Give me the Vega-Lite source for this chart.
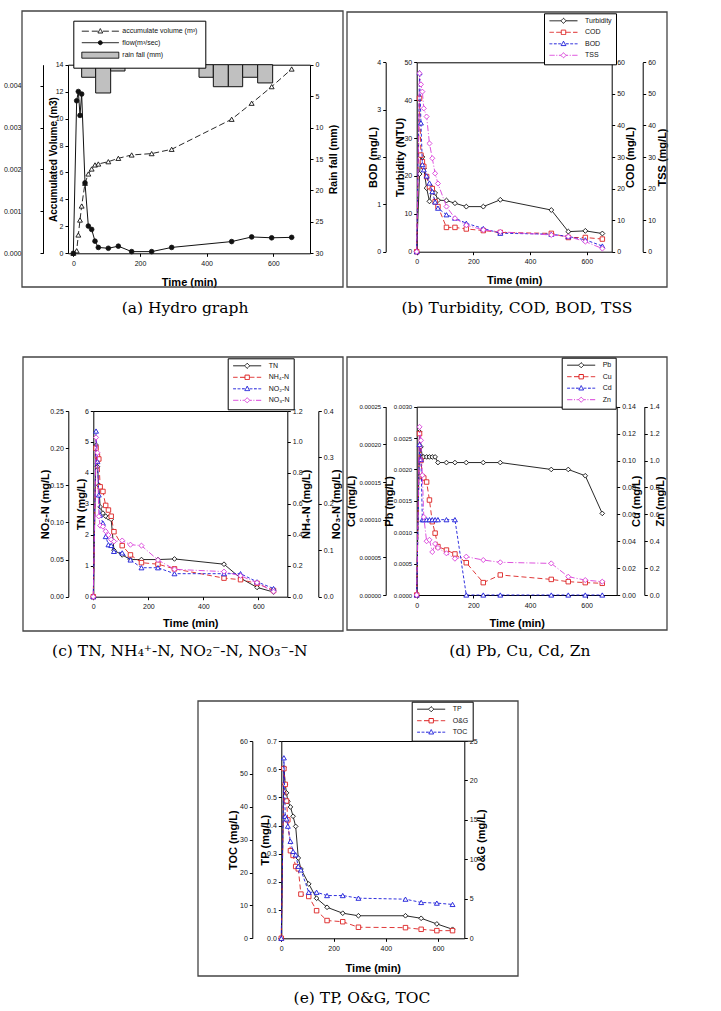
{
"$schema": "https://vega.github.io/schema/vega-lite/v6.json",
"width": 721, "height": 1011, "padding": 0, "autosize": {"type": "none"},
"background": "white",
"datasets": {
"hydro": [
{"t":0,"volume":0,"flow":0},{"t":10,"volume":0.19,"flow":0.00364},{"t":15,"volume":1.36,"flow":0.00386},{"t":20,"volume":2.47,"flow":0.00329},{"t":25,"volume":3.51,"flow":0.0038},{"t":35,"volume":5.2,"flow":0.00168},{"t":45,"volume":5.89,"flow":0.00065},{"t":55,"volume":6.26,"flow":0.00057},{"t":65,"volume":6.56,"flow":0.00029},{"t":75,"volume":6.63,"flow":0.00014},{"t":105,"volume":6.8,"flow":0.00012},{"t":135,"volume":7.05,"flow":0.00017},{"t":175,"volume":7.3,"flow":0.00004},{"t":235,"volume":7.4,"flow":0.00004},{"t":295,"volume":7.72,"flow":0.00014},{"t":475,"volume":9.95,"flow":0.00028},{"t":535,"volume":11.14,"flow":0.00039},{"t":595,"volume":12.37,"flow":0.00037},{"t":655,"volume":13.68,"flow":0.00038}],
"rain": [
{"start":25,"end":67,"rain":2.0},{"start":67,"end":112,"rain":4.5},{"start":112,"end":155,"rain":1.0},{"start":377,"end":420,"rain":2.0},{"start":420,"end":465,"rain":3.5},{"start":465,"end":508,"rain":3.5},{"start":508,"end":553,"rain":2.0},{"start":553,"end":598,"rain":2.9}],
"b": [
{"t":0,"turbidity":0,"cod":0,"bod":0,"tss":0},{"t":10,"turbidity":20.5,"cod":48.6,"bod":3.78,"tss":56.5},{"t":15,"turbidity":25.5,"cod":30.6,"bod":2.72,"tss":53},{"t":20,"turbidity":25,"cod":28.5,"bod":1.84,"tss":50.7},{"t":25,"turbidity":22,"cod":27,"bod":1.73,"tss":45.4},{"t":35,"turbidity":16.8,"cod":23.8,"bod":1.6,"tss":42.8},{"t":45,"turbidity":13.3,"cod":20.6,"bod":1.45,"tss":34.3},{"t":55,"turbidity":16.8,"cod":20,"bod":1.27,"tss":29.6},{"t":65,"turbidity":15.5,"cod":15.8,"bod":1.05,"tss":24.8},{"t":75,"turbidity":13.6,"cod":14.3,"bod":0.92,"tss":21.6},{"t":105,"turbidity":13.5,"cod":7.7,"bod":0.78,"tss":14.3},{"t":135,"turbidity":12.8,"cod":7.7,"bod":0.71,"tss":10.6},{"t":175,"turbidity":11.9,"cod":7.2,"bod":0.6,"tss":8.4},{"t":235,"turbidity":11.9,"cod":6.7,"bod":0.49,"tss":6.9},{"t":295,"turbidity":13.7,"cod":6.1,"bod":0.39,"tss":6.3},{"t":475,"turbidity":11,"cod":5.8,"bod":0.37,"tss":5.3},{"t":535,"turbidity":5.3,"cod":4.5,"bod":0.32,"tss":4.8},{"t":595,"turbidity":5.5,"cod":4.5,"bod":0.25,"tss":3.2},{"t":655,"turbidity":4.8,"cod":4.0,"bod":0.12,"tss":1.0}],
"c": [
{"t":0,"tn":0,"nh4":0,"no2":0,"no3":0},{"t":10,"tn":4.9,"nh4":0.96,"no2":0.223,"no3":0.343},{"t":15,"tn":4.2,"nh4":0.91,"no2":0.182,"no3":0.31},{"t":20,"tn":3.6,"nh4":0.89,"no2":0.137,"no3":0.173},{"t":25,"tn":2.9,"nh4":0.71,"no2":0.11,"no3":0.153},{"t":35,"tn":2.7,"nh4":0.68,"no2":0.099,"no3":0.151},{"t":45,"tn":2.6,"nh4":0.59,"no2":0.081,"no3":0.141},{"t":55,"tn":2.55,"nh4":0.56,"no2":0.07,"no3":0.133},{"t":65,"tn":2.5,"nh4":0.52,"no2":0.069,"no3":0.123},{"t":75,"tn":1.5,"nh4":0.42,"no2":0.061,"no3":0.119},{"t":105,"tn":1.35,"nh4":0.33,"no2":0.059,"no3":0.121},{"t":135,"tn":1.2,"nh4":0.27,"no2":0.0495,"no3":0.112},{"t":175,"tn":1.2,"nh4":0.22,"no2":0.039,"no3":0.11},{"t":235,"tn":1.2,"nh4":0.21,"no2":0.039,"no3":0.079},{"t":295,"tn":1.22,"nh4":0.18,"no2":0.031,"no3":0.059},{"t":475,"tn":1.05,"nh4":0.12,"no2":0.031,"no3":0.054},{"t":535,"tn":0.6,"nh4":0.11,"no2":0.031,"no3":0.045},{"t":595,"tn":0.3,"nh4":0.086,"no2":0.02,"no3":0.03},{"t":655,"tn":0.15,"nh4":0.04,"no2":0.011,"no3":0.011}],
"d": [
{"t":0,"pb":0,"cu":0,"cd":0,"zn":0},{"t":10,"pb":0.0026,"cu":0.12,"cd":0.0002,"zn":1.25},{"t":15,"pb":0.00236,"cu":0.1,"cd":0.00018,"zn":1.15},{"t":20,"pb":0.0022,"cu":0.088,"cd":0.0001,"zn":0.89},{"t":25,"pb":0.0022,"cu":0.087,"cd":0.0001,"zn":0.58},{"t":35,"pb":0.0022,"cu":0.084,"cd":0.0001,"zn":0.4},{"t":45,"pb":0.0022,"cu":0.0706,"cd":0.0001,"zn":0.41},{"t":55,"pb":0.0022,"cu":0.0545,"cd":0.0001,"zn":0.32},{"t":65,"pb":0.0022,"cu":0.046,"cd":0.0001,"zn":0.38},{"t":75,"pb":0.00211,"cu":0.036,"cd":0.0001,"zn":0.35},{"t":105,"pb":0.00211,"cu":0.0334,"cd":0.0001,"zn":0.31},{"t":135,"pb":0.00211,"cu":0.0305,"cd":0.0001,"zn":0.27},{"t":175,"pb":0.00211,"cu":0.024,"cd":0,"zn":0.285},{"t":235,"pb":0.00211,"cu":0.0092,"cd":0,"zn":0.26},{"t":295,"pb":0.00211,"cu":0.0149,"cd":0,"zn":0.243},{"t":475,"pb":0.002,"cu":0.0116,"cd":0,"zn":0.235},{"t":535,"pb":0.002,"cu":0.0099,"cd":0,"zn":0.136},{"t":595,"pb":0.0019,"cu":0.0092,"cd":0,"zn":0.111},{"t":655,"pb":0.0013,"cu":0.0087,"cd":0,"zn":0.099}],
"e": [
{"t":0,"tp":0,"og":0,"toc":0},{"t":10,"tp":0.605,"og":21.5,"toc":54.9},{"t":15,"tp":0.546,"og":19.5,"toc":37.1},{"t":20,"tp":0.516,"og":17.4,"toc":36.3},{"t":25,"tp":0.486,"og":15.0,"toc":34.1},{"t":35,"tp":0.466,"og":11.1,"toc":29.5},{"t":45,"tp":0.433,"og":10.5,"toc":26.4},{"t":55,"tp":0.397,"og":9.1,"toc":25.4},{"t":65,"tp":0.285,"og":8.8,"toc":21.9},{"t":75,"tp":0.246,"og":5.6,"toc":20.8},{"t":105,"tp":0.193,"og":5.3,"toc":14.0},{"t":135,"tp":0.142,"og":3.5,"toc":14.0},{"t":175,"tp":0.11,"og":2.25,"toc":13.0},{"t":235,"tp":0.089,"og":2.1,"toc":13.0},{"t":295,"tp":0.08,"og":1.4,"toc":12.2},{"t":475,"tp":0.08,"og":1.35,"toc":11.9},{"t":535,"tp":0.071,"og":1.14,"toc":10.9},{"t":595,"tp":0.051,"og":0.97,"toc":10.7},{"t":655,"tp":0.032,"og":0.97,"toc":10.3}]
},
"config": {
"view": {"stroke": null},
"axis": {"grid": false, "domainColor": "#000", "domainWidth": 1, "tickColor": "#000", "tickSize": 3, "tickWidth": 1, "labelFont": "Liberation Sans Narrow, Liberation Sans", "labelFontSize": 7, "labelColor": "#111", "labelPadding": 2, "titleFont": "Liberation Sans", "titleFontSize": 11, "titleFontWeight": "bold", "titleColor": "#000", "labelFlush": false, "titleBaseline": "middle"},
"axisX": {"labelPadding": 3, "titleFont": "Liberation Sans Narrow, Liberation Sans"},
"legend": {"labelFont": "Liberation Sans Narrow, Liberation Sans", "labelFontSize": 7, "labelColor": "#111", "symbolSize": 16, "padding": 4, "rowPadding": 1.5, "labelOffset": 30, "strokeColor": "#000", "fillColor": "white", "symbolStrokeWidth": 1}
},
"layer": [
{
"layer": [
{"data": {"values": [{"caption": "(a) Hydro graph"}]},
 "encoding": {"x": {"datum": 0, "type": "quantitative", "scale": {"domain": [0,1], "range": [22,343], "nice": false, "zero": false}, "axis": null}, "y": {"datum": 0, "type": "quantitative", "scale": {"domain": [0,1], "range": [287,11], "nice": false, "zero": false}, "axis": null}},
 "layer": [
  {"mark": {"type": "rect", "fillOpacity": 0, "stroke": "#444", "strokeWidth": 1.3}, "encoding": {"x2": {"datum": 1}, "y2": {"datum": 1}}},
  {"mark": {"type": "text", "font": "DejaVu Serif", "fontSize": 15.5, "fill": "#000", "align": "center", "baseline": "middle"}, "encoding": {"x": {"datum": 0.508, "type": "quantitative"}, "y": {"datum": -0.0761, "type": "quantitative"}, "text": {"field": "caption"}}}
 ]},
{"data": {"name": "hydro"},
 "mark": {"type": "line", "strokeWidth": 0.9, "strokeDash": [6,3], "point": {"shape": "triangle-up", "size": 24, "filled": true, "fill": "white", "strokeWidth": 0.9}},
 "encoding": {
  "x": {"field": "t", "type": "quantitative", "scale": {"domain": [-16,710], "range": [68,310], "nice": false, "zero": false}, "axis": {"orient": "bottom", "offset": -757.7, "values": [0,200,400,600], "title": "Time (min)", "titleY": 28.7}},
  "y": {"field": "volume", "type": "quantitative", "scale": {"domain": [0,14], "range": [253.3,64.7], "nice": false}, "axis": {"orient": "left", "offset": -68, "values": [0,2,4,6,8,10,12,14], "title": "Accumulated Volume (m3)", "titleX": -15, "titleFontSize": 10}},
  "stroke": {"datum": "accumulate volume (m³)", "type": "nominal", "scale": {"domain": ["accumulate volume (m³)", "flow(m³/sec)", "rain fall (mm)"], "range": ["#111111", "#111111", "#111111"]},
   "legend": {"orient": "none", "legendX": 73.3, "legendY": 20.7, "title": null, "padding": 7, "rowPadding": 2.5, "labelOffset": 35, "labelFontSize": 7,
    "encode": {"symbols": {"update": {"shape": {"signal": "datum.index === 0 ? 'M-1,0L2.5,0M4,0L7,0M9.5,0L12.5,0M14,0L17.5,0M8.25,-1.3L9.45,0.9L7.05,0.9Z' : datum.index === 1 ? 'M-1,0L17.5,0M9.25,0A1,1,0,1,1,7.25,0A1,1,0,1,1,9.25,0Z' : 'M-1,-1.5L17.5,-1.5L17.5,1.5L-1,1.5Z'"}, "fill": {"signal": "datum.index === 1 ? '#111111' : datum.index === 2 ? '#c0c0c0' : 'white'"}, "strokeDash": {"value": [1,0]}, "strokeWidth": {"value": 1}}}}}}
 }},
{"data": {"name": "hydro"},
 "mark": {"type": "line", "strokeWidth": 1, "point": {"shape": "circle", "size": 22, "filled": true, "fill": "#111111", "strokeWidth": 0.8}},
 "encoding": {
  "x": {"field": "t", "type": "quantitative", "scale": {"domain": [-16,710], "range": [68,310], "nice": false, "zero": false}, "axis": null},
  "y": {"field": "flow", "type": "quantitative", "scale": {"domain": [0,0.0045], "range": [253.3,64.7], "nice": false}, "axis": {"orient": "left", "offset": -43, "values": [0,0.001,0.002,0.003,0.004], "format": ".3f", "labelPadding": 19, "title": null}},
  "stroke": {"datum": "flow(m³/sec)", "type": "nominal"}
 }},
{"data": {"name": "rain"},
 "mark": {"type": "rect", "fill": "#c0c0c0", "strokeWidth": 1},
 "encoding": {
  "x": {"field": "start", "type": "quantitative", "scale": {"domain": [-16,710], "range": [68,310], "nice": false, "zero": false}, "axis": {"orient": "top", "offset": -64.7, "labels": false, "ticks": false, "title": null}},
  "x2": {"field": "end"},
  "y": {"field": "rain", "type": "quantitative", "scale": {"domain": [0,30], "range": [64.7,253.3], "nice": false}, "axis": {"orient": "right", "offset": -411, "values": [0,5,10,15,20,25,30], "title": "Rain fall (mm)", "titleX": 23, "titleAngle": 270, "titleFontSize": 10.5}},
  "y2": {"datum": 0},
  "stroke": {"datum": "rain fall (mm)", "type": "nominal"}
 }}
],
"resolve": {"scale": {"x": "independent", "y": "independent"}}
},
{
"layer": [
{"data": {"values": [{"caption": "(b) Turbidity, COD, BOD, TSS"}]},
 "encoding": {"x": {"datum": 0, "type": "quantitative", "scale": {"domain": [0,1], "range": [347,667], "nice": false, "zero": false}, "axis": null}, "y": {"datum": 0, "type": "quantitative", "scale": {"domain": [0,1], "range": [287,12], "nice": false, "zero": false}, "axis": null}},
 "layer": [
  {"mark": {"type": "rect", "fillOpacity": 0, "stroke": "#444", "strokeWidth": 1.3}, "encoding": {"x2": {"datum": 1}, "y2": {"datum": 1}}},
  {"mark": {"type": "text", "font": "DejaVu Serif", "fontSize": 15.5, "fill": "#000", "align": "center", "baseline": "middle"}, "encoding": {"x": {"datum": 0.531, "type": "quantitative"}, "y": {"datum": -0.0764, "type": "quantitative"}, "text": {"field": "caption"}}}
 ]},
{"data": {"name": "b"},
 "mark": {"type": "line", "strokeWidth": 0.9, "point": {"shape": "diamond", "size": 24, "filled": true, "fill": "white", "strokeWidth": 0.9}},
 "encoding": {
  "x": {"field": "t", "type": "quantitative", "scale": {"domain": [0,688], "range": [416.7,611.7], "nice": false, "zero": false}, "axis": {"orient": "bottom", "offset": -759.3, "values": [0,200,400,600], "title": "Time (min)", "titleY": 28.3}},
  "y": {"field": "turbidity", "type": "quantitative", "scale": {"domain": [0,50], "range": [251.7,62.3], "nice": false}, "axis": {"orient": "left", "offset": -416.7, "values": [0,10,20,30,40,50], "title": "Turbidity (NTU)", "titleX": -16.7}},
  "stroke": {"datum": "Turbidity", "type": "nominal", "scale": {"domain": ["Turbidity","COD","BOD","TSS"], "range": ["#111111","#dd2222","#1a1ad9","#d93fd9"]},
   "legend": {"orient": "none", "legendX": 544, "legendY": 13.3, "title": null,
    "encode": {"symbols": {"update": {"shape": {"signal": "datum.index === 0 ? 'M-1,0L4.7,0M7.3,0L13,0M6,-1.3L7.3,0L6,1.3L4.7,0Z' : datum.index === 1 ? 'M-1,0L1.2,0M2.4,0L4.9,0M7.1,0L9.6,0M10.8,0L13,0M4.9,-1.1L7.1,-1.1L7.1,1.1L4.9,1.1Z' : datum.index === 2 ? 'M-1,0L0.4,0M1.2,0L2.6,0M3.4,0L4.8,0M7.2,0L8.6,0M9.4,0L10.8,0M11.6,0L13,0M6,-1.3L7.2,0.9L4.8,0.9Z' : 'M-1,0L1.6,0M2.4,0L2.9,0M3.7,0L4.7,0M7.3,0L8.3,0M9.1,0L9.6,0M10.4,0L13,0M6,-1.3L7.3,0L6,1.3L4.7,0Z'"}, "fill": {"value": "white"}, "strokeDash": {"value": [1,0]}, "strokeWidth": {"value": 1}}}}}}
 }},
{"data": {"name": "b"},
 "mark": {"type": "line", "strokeWidth": 0.9, "strokeDash": [5,3], "point": {"shape": "square", "size": 20, "filled": true, "fill": "white", "strokeWidth": 0.9}},
 "encoding": {
  "x": {"field": "t", "type": "quantitative", "scale": {"domain": [0,688], "range": [416.7,611.7], "nice": false, "zero": false}, "axis": {"orient": "top", "offset": -62.3, "labels": false, "ticks": false, "title": null}},
  "y": {"field": "cod", "type": "quantitative", "scale": {"domain": [0,60], "range": [251.7,62.3], "nice": false}, "axis": {"orient": "right", "offset": -109.3, "values": [0,10,20,30,40,50,60], "title": "COD (mg/L)", "titleX": 18.3, "titleAngle": 270}},
  "stroke": {"datum": "COD", "type": "nominal"}
 }},
{"data": {"name": "b"},
 "mark": {"type": "line", "strokeWidth": 0.9, "strokeDash": [3,2], "point": {"shape": "triangle-up", "size": 24, "filled": true, "fill": "white", "strokeWidth": 0.9}},
 "encoding": {
  "x": {"field": "t", "type": "quantitative", "scale": {"domain": [0,688], "range": [416.7,611.7], "nice": false, "zero": false}, "axis": null},
  "y": {"field": "bod", "type": "quantitative", "scale": {"domain": [0,4], "range": [251.7,62.3], "nice": false}, "axis": {"orient": "left", "offset": -385.7, "values": [0,1,2,3,4], "title": "BOD (mg/L)", "titleX": -12.7}},
  "stroke": {"datum": "BOD", "type": "nominal"}
 }},
{"data": {"name": "b"},
 "mark": {"type": "line", "strokeWidth": 0.9, "strokeDash": [6,2,1,2], "point": {"shape": "diamond", "size": 26, "filled": true, "fill": "white", "strokeWidth": 0.9}},
 "encoding": {
  "x": {"field": "t", "type": "quantitative", "scale": {"domain": [0,688], "range": [416.7,611.7], "nice": false, "zero": false}, "axis": null},
  "y": {"field": "tss", "type": "quantitative", "scale": {"domain": [0,60], "range": [251.7,62.3], "nice": false}, "axis": {"orient": "right", "offset": -78.3, "values": [0,10,20,30,40,50,60], "title": "TSS (mg/L)", "titleX": 19.3, "titleAngle": 270}},
  "stroke": {"datum": "TSS", "type": "nominal"}
 }}
],
"resolve": {"scale": {"x": "independent", "y": "independent"}}
},
{
"layer": [
{"data": {"values": [{"caption": "(c) TN, NH₄⁺-N, NO₂⁻-N, NO₃⁻-N"}]},
 "encoding": {"x": {"datum": 0, "type": "quantitative", "scale": {"domain": [0,1], "range": [23,343], "nice": false, "zero": false}, "axis": null}, "y": {"datum": 0, "type": "quantitative", "scale": {"domain": [0,1], "range": [631,357], "nice": false, "zero": false}, "axis": null}},
 "layer": [
  {"mark": {"type": "rect", "fillOpacity": 0, "stroke": "#444", "strokeWidth": 1.3}, "encoding": {"x2": {"datum": 1}, "y2": {"datum": 1}}},
  {"mark": {"type": "text", "font": "DejaVu Serif", "fontSize": 15.5, "fill": "#000", "align": "center", "baseline": "middle"}, "encoding": {"x": {"datum": 0.49, "type": "quantitative"}, "y": {"datum": -0.073, "type": "quantitative"}, "text": {"field": "caption"}}}
 ]},
{"data": {"name": "c"},
 "mark": {"type": "line", "strokeWidth": 0.9, "point": {"shape": "diamond", "size": 22, "filled": true, "fill": "white", "strokeWidth": 0.9}},
 "encoding": {
  "x": {"field": "t", "type": "quantitative", "scale": {"domain": [0,705], "range": [93.3,287.3], "nice": false, "zero": false}, "axis": {"orient": "bottom", "offset": -414.3, "values": [0,200,400,600], "title": "Time (min)", "titleY": 26.6}},
  "y": {"field": "tn", "type": "quantitative", "scale": {"domain": [0,6], "range": [596.7,411], "nice": false}, "axis": {"orient": "left", "offset": -93.3, "values": [0,1,2,3,4,5,6], "title": "TN (mg/L)", "titleX": -11.6}},
  "stroke": {"datum": "TN", "type": "nominal", "scale": {"domain": ["TN","NH₄-N","NO₂-N","NO₃-N"], "range": ["#111111","#dd2222","#1a1ad9","#d93fd9"]},
   "legend": {"orient": "none", "legendX": 227.7, "legendY": 358.3, "title": null,
    "encode": {"symbols": {"update": {"shape": {"signal": "datum.index === 0 ? 'M-1,0L4.7,0M7.3,0L13,0M6,-1.3L7.3,0L6,1.3L4.7,0Z' : datum.index === 1 ? 'M-1,0L1.2,0M2.4,0L4.9,0M7.1,0L9.6,0M10.8,0L13,0M4.9,-1.1L7.1,-1.1L7.1,1.1L4.9,1.1Z' : datum.index === 2 ? 'M-1,0L0.4,0M1.2,0L2.6,0M3.4,0L4.8,0M7.2,0L8.6,0M9.4,0L10.8,0M11.6,0L13,0M6,-1.3L7.2,0.9L4.8,0.9Z' : 'M-1,0L1.6,0M2.4,0L2.9,0M3.7,0L4.7,0M7.3,0L8.3,0M9.1,0L9.6,0M10.4,0L13,0M6,-1.3L7.3,0L6,1.3L4.7,0Z'"}, "fill": {"value": "white"}, "strokeDash": {"value": [1,0]}, "strokeWidth": {"value": 1}}}}}}
 }},
{"data": {"name": "c"},
 "mark": {"type": "line", "strokeWidth": 0.9, "strokeDash": [5,3], "point": {"shape": "square", "size": 20, "filled": true, "fill": "white", "strokeWidth": 0.9}},
 "encoding": {
  "x": {"field": "t", "type": "quantitative", "scale": {"domain": [0,705], "range": [93.3,287.3], "nice": false, "zero": false}, "axis": {"orient": "top", "offset": -411, "labels": false, "ticks": false, "title": null}},
  "y": {"field": "nh4", "type": "quantitative", "scale": {"domain": [0,1.2], "range": [596.7,411], "nice": false}, "axis": {"orient": "right", "offset": -433.7, "values": [0,0.2,0.4,0.6,0.8,1.0,1.2], "format": ".1f", "title": "NH₄-N (mg/L)", "titleX": 19.4, "titleAngle": 270}},
  "stroke": {"datum": "NH₄-N", "type": "nominal"}
 }},
{"data": {"name": "c"},
 "mark": {"type": "line", "strokeWidth": 0.9, "strokeDash": [3,2], "point": {"shape": "triangle-up", "size": 24, "filled": true, "fill": "white", "strokeWidth": 0.9}},
 "encoding": {
  "x": {"field": "t", "type": "quantitative", "scale": {"domain": [0,705], "range": [93.3,287.3], "nice": false, "zero": false}, "axis": null},
  "y": {"field": "no2", "type": "quantitative", "scale": {"domain": [0,0.25], "range": [596.7,411], "nice": false}, "axis": {"orient": "left", "offset": -68.3, "values": [0,0.05,0.1,0.15,0.2,0.25], "format": ".2f", "title": "NO₂-N (mg/L)", "titleX": -23.3}},
  "stroke": {"datum": "NO₂-N", "type": "nominal"}
 }},
{"data": {"name": "c"},
 "mark": {"type": "line", "strokeWidth": 0.9, "strokeDash": [6,2,1,2], "point": {"shape": "diamond", "size": 26, "filled": true, "fill": "white", "strokeWidth": 0.9}},
 "encoding": {
  "x": {"field": "t", "type": "quantitative", "scale": {"domain": [0,705], "range": [93.3,287.3], "nice": false, "zero": false}, "axis": null},
  "y": {"field": "no3", "type": "quantitative", "scale": {"domain": [0,0.4], "range": [596.7,411], "nice": false}, "axis": {"orient": "right", "offset": -402.7, "values": [0,0.1,0.2,0.3,0.4], "format": ".1f", "title": "NO₃-N (mg/L)", "titleX": 18.4, "titleAngle": 270}},
  "stroke": {"datum": "NO₃-N", "type": "nominal"}
 }}
],
"resolve": {"scale": {"x": "independent", "y": "independent"}}
},
{
"layer": [
{"data": {"values": [{"caption": "(d) Pb, Cu, Cd, Zn"}]},
 "encoding": {"x": {"datum": 0, "type": "quantitative", "scale": {"domain": [0,1], "range": [347,667], "nice": false, "zero": false}, "axis": null}, "y": {"datum": 0, "type": "quantitative", "scale": {"domain": [0,1], "range": [630,357], "nice": false, "zero": false}, "axis": null}},
 "layer": [
  {"mark": {"type": "rect", "fillOpacity": 0, "stroke": "#444", "strokeWidth": 1.3}, "encoding": {"x2": {"datum": 1}, "y2": {"datum": 1}}},
  {"mark": {"type": "text", "font": "DejaVu Serif", "fontSize": 15.5, "fill": "#000", "align": "center", "baseline": "middle"}, "encoding": {"x": {"datum": 0.54, "type": "quantitative"}, "y": {"datum": -0.077, "type": "quantitative"}, "text": {"field": "caption"}}}
 ]},
{"data": {"name": "d"},
 "mark": {"type": "line", "strokeWidth": 0.9, "point": {"shape": "diamond", "size": 22, "filled": true, "fill": "white", "strokeWidth": 0.9}},
 "encoding": {
  "x": {"field": "t", "type": "quantitative", "scale": {"domain": [0,706], "range": [416.7,616.7], "nice": false, "zero": false}, "axis": {"orient": "bottom", "offset": -416, "values": [0,200,400,600], "title": "Time (min)", "titleY": 28.3}},
  "y": {"field": "pb", "type": "quantitative", "scale": {"domain": [0,0.003], "range": [595,406.7], "nice": false}, "axis": {"orient": "left", "offset": -416.7, "values": [0,0.0005,0.001,0.0015,0.002,0.0025,0.003], "format": ".4f", "labelFontSize": 6, "title": "Pb (mg/L)", "titleX": -27}},
  "stroke": {"datum": "Pb", "type": "nominal", "scale": {"domain": ["Pb","Cu","Cd","Zn"], "range": ["#111111","#dd2222","#1a1ad9","#d93fd9"]},
   "legend": {"orient": "none", "legendX": 561.7, "legendY": 357.7, "title": null,
    "encode": {"symbols": {"update": {"shape": {"signal": "datum.index === 0 ? 'M-1,0L4.7,0M7.3,0L13,0M6,-1.3L7.3,0L6,1.3L4.7,0Z' : datum.index === 1 ? 'M-1,0L1.2,0M2.4,0L4.9,0M7.1,0L9.6,0M10.8,0L13,0M4.9,-1.1L7.1,-1.1L7.1,1.1L4.9,1.1Z' : datum.index === 2 ? 'M-1,0L0.4,0M1.2,0L2.6,0M3.4,0L4.8,0M7.2,0L8.6,0M9.4,0L10.8,0M11.6,0L13,0M6,-1.3L7.2,0.9L4.8,0.9Z' : 'M-1,0L1.6,0M2.4,0L2.9,0M3.7,0L4.7,0M7.3,0L8.3,0M9.1,0L9.6,0M10.4,0L13,0M6,-1.3L7.3,0L6,1.3L4.7,0Z'"}, "fill": {"value": "white"}, "strokeDash": {"value": [1,0]}, "strokeWidth": {"value": 1}}}}}}
 }},
{"data": {"name": "d"},
 "mark": {"type": "line", "strokeWidth": 0.9, "strokeDash": [5,3], "point": {"shape": "square", "size": 20, "filled": true, "fill": "white", "strokeWidth": 0.9}},
 "encoding": {
  "x": {"field": "t", "type": "quantitative", "scale": {"domain": [0,706], "range": [416.7,616.7], "nice": false, "zero": false}, "axis": {"orient": "top", "offset": -406.7, "labels": false, "ticks": false, "title": null}},
  "y": {"field": "cu", "type": "quantitative", "scale": {"domain": [0,0.14], "range": [595,406.7], "nice": false}, "axis": {"orient": "right", "offset": -104.3, "values": [0,0.02,0.04,0.06,0.08,0.1,0.12,0.14], "format": ".2f", "title": "Cu (mg/L)", "titleX": 20, "titleAngle": 270}},
  "stroke": {"datum": "Cu", "type": "nominal"}
 }},
{"data": {"name": "d"},
 "mark": {"type": "line", "strokeWidth": 0.9, "strokeDash": [3,2], "point": {"shape": "triangle-up", "size": 24, "filled": true, "fill": "white", "strokeWidth": 0.9}},
 "encoding": {
  "x": {"field": "t", "type": "quantitative", "scale": {"domain": [0,706], "range": [416.7,616.7], "nice": false, "zero": false}, "axis": null},
  "y": {"field": "cd", "type": "quantitative", "scale": {"domain": [0,0.00025], "range": [595,406.7], "nice": false}, "axis": {"orient": "left", "offset": -385.7, "values": [0,0.00005,0.0001,0.00015,0.0002,0.00025], "format": ".5f", "labelFontSize": 6, "title": "Cd (mg/L)", "titleX": -34}},
  "stroke": {"datum": "Cd", "type": "nominal"}
 }},
{"data": {"name": "d"},
 "mark": {"type": "line", "strokeWidth": 0.9, "strokeDash": [6,2,1,2], "point": {"shape": "diamond", "size": 26, "filled": true, "fill": "white", "strokeWidth": 0.9}},
 "encoding": {
  "x": {"field": "t", "type": "quantitative", "scale": {"domain": [0,706], "range": [416.7,616.7], "nice": false, "zero": false}, "axis": null},
  "y": {"field": "zn", "type": "quantitative", "scale": {"domain": [0,1.4], "range": [595,406.7], "nice": false}, "axis": {"orient": "right", "offset": -76.7, "values": [0,0.2,0.4,0.6,0.8,1.0,1.2,1.4], "format": ".1f", "title": "Zn (mg/L)", "titleX": 15.7, "titleAngle": 270}},
  "stroke": {"datum": "Zn", "type": "nominal"}
 }}
],
"resolve": {"scale": {"x": "independent", "y": "independent"}}
},
{
"layer": [
{"data": {"values": [{"caption": "(e) TP, O&G, TOC"}]},
 "encoding": {"x": {"datum": 0, "type": "quantitative", "scale": {"domain": [0,1], "range": [198,518], "nice": false, "zero": false}, "axis": null}, "y": {"datum": 0, "type": "quantitative", "scale": {"domain": [0,1], "range": [976,701], "nice": false, "zero": false}, "axis": null}},
 "layer": [
  {"mark": {"type": "rect", "fillOpacity": 0, "stroke": "#444", "strokeWidth": 1.3}, "encoding": {"x2": {"datum": 1}, "y2": {"datum": 1}}},
  {"mark": {"type": "text", "font": "DejaVu Serif", "fontSize": 15.5, "fill": "#000", "align": "center", "baseline": "middle"}, "encoding": {"x": {"datum": 0.5125, "type": "quantitative"}, "y": {"datum": -0.08, "type": "quantitative"}, "text": {"field": "caption"}}}
 ]},
{"data": {"name": "e"},
 "mark": {"type": "line", "strokeWidth": 0.9, "point": {"shape": "diamond", "size": 22, "filled": true, "fill": "white", "strokeWidth": 0.9}},
 "encoding": {
  "x": {"field": "t", "type": "quantitative", "scale": {"domain": [0,700], "range": [281.3,464.3], "nice": false, "zero": false}, "axis": {"orient": "bottom", "offset": -72.7, "values": [0,200,400,600], "title": "Time (min)", "titleY": 30}},
  "y": {"field": "tp", "type": "quantitative", "scale": {"domain": [0,0.7], "range": [938.3,741], "nice": false}, "axis": {"orient": "left", "offset": -281.3, "values": [0,0.1,0.2,0.3,0.4,0.5,0.6,0.7], "format": ".1f", "title": "TP (mg/L)", "titleX": -16.3}},
  "stroke": {"datum": "TP", "type": "nominal", "scale": {"domain": ["TP","O&G","TOC"], "range": ["#111111","#dd2222","#1a1ad9"]},
   "legend": {"orient": "none", "legendX": 411.7, "legendY": 701.7, "title": null,
    "encode": {"symbols": {"update": {"shape": {"signal": "datum.index === 0 ? 'M-1,0L4.7,0M7.3,0L13,0M6,-1.3L7.3,0L6,1.3L4.7,0Z' : datum.index === 1 ? 'M-1,0L1.2,0M2.4,0L4.9,0M7.1,0L9.6,0M10.8,0L13,0M4.9,-1.1L7.1,-1.1L7.1,1.1L4.9,1.1Z' : 'M-1,0L0.4,0M1.2,0L2.6,0M3.4,0L4.8,0M7.2,0L8.6,0M9.4,0L10.8,0M11.6,0L13,0M6,-1.3L7.2,0.9L4.8,0.9Z'"}, "fill": {"value": "white"}, "strokeDash": {"value": [1,0]}, "strokeWidth": {"value": 1}}}}}}
 }},
{"data": {"name": "e"},
 "mark": {"type": "line", "strokeWidth": 0.9, "strokeDash": [5,3], "point": {"shape": "square", "size": 20, "filled": true, "fill": "white", "strokeWidth": 0.9}},
 "encoding": {
  "x": {"field": "t", "type": "quantitative", "scale": {"domain": [0,700], "range": [281.3,464.3], "nice": false, "zero": false}, "axis": {"orient": "top", "offset": -741, "labels": false, "ticks": false, "title": null}},
  "y": {"field": "og", "type": "quantitative", "scale": {"domain": [0,25], "range": [938.3,741], "nice": false}, "axis": {"orient": "right", "offset": -256.7, "values": [0,5,10,15,20,25], "title": "O&G (mg/L)", "titleX": 17.4, "titleAngle": 270}},
  "stroke": {"datum": "O&G", "type": "nominal"}
 }},
{"data": {"name": "e"},
 "mark": {"type": "line", "strokeWidth": 0.9, "strokeDash": [3,2], "point": {"shape": "triangle-up", "size": 24, "filled": true, "fill": "white", "strokeWidth": 0.9}},
 "encoding": {
  "x": {"field": "t", "type": "quantitative", "scale": {"domain": [0,700], "range": [281.3,464.3], "nice": false, "zero": false}, "axis": null},
  "y": {"field": "toc", "type": "quantitative", "scale": {"domain": [0,60], "range": [938.3,741], "nice": false}, "axis": {"orient": "left", "offset": -252.3, "values": [0,10,20,30,40,50,60], "title": "TOC (mg/L)", "titleX": -19}},
  "stroke": {"datum": "TOC", "type": "nominal"}
 }}
],
"resolve": {"scale": {"x": "independent", "y": "independent"}}
}
],
"resolve": {"scale": {"x": "independent", "y": "independent", "stroke": "independent"}}
}
